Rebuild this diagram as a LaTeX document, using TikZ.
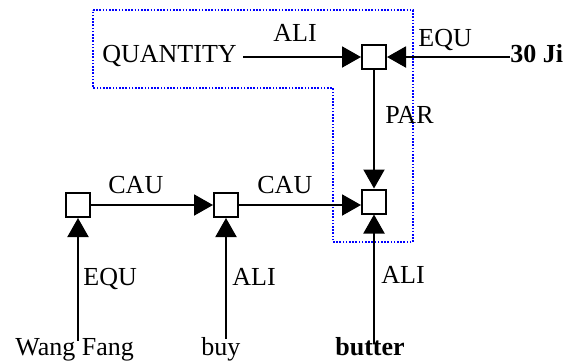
\documentclass[tikz,border=0pt]{standalone}
\usepackage{fontspec}
\setmainfont{Liberation Serif}
\usetikzlibrary{positioning,calc,arrows.meta}

\begin{document}
\begin{tikzpicture}[x=0.5pt,y=-0.5pt,
  font=\fontsize{13}{15}\selectfont,
  box/.style={draw,line width=1pt,minimum size=12pt,inner sep=0pt},
  word/.style={inner sep=0pt,anchor=base west},
  arr/.style={line width=1pt,-{Triangle[length=9.5pt,width=10.5pt]}}]
\useasboundingbox (0,0) rectangle (568,361);
%% dotted frame round the quantity part
\draw[blue,line width=0.8pt,dash pattern=on 0.8pt off 0.8pt]
  (93,10) -- (413,10) -- (413,242) -- (333,242) -- (333,88) -- (93,88) -- cycle;
%% squares
\node[box] (sqtop) at (374,57) {};
\node[box] (sqb) at (374,201.5) {};
\node[box] (sqa) at (78,205) {};
\node[box] (sqm) at (226,205) {};
%% words
\node[word] (qty) at (102,62) {QUANTITY};
\node[word] (ji) at (510,62) {\textbf{30 Ji}};
\node[word] (wang) at (15,355) {Wang Fang};
\node[word] (buy) at (201,355) {buy};
\node[word] (butter) at (335,355) {\textbf{butter}};
%% relation labels
\node[word] (aliq) at (273,41.5) {ALI};
\node[word] (equji) at (418,46) {EQU};
\node[word] (par) at (385,123) {PAR};
\node[word] (caua) at (108,193) {CAU};
\node[word] (caum) at (257,193) {CAU};
\node[word] (equw) at (83,285) {EQU};
\node[word] (alibuy) at (232,285) {ALI};
\node[word] (alibut) at (381,283) {ALI};
%% connectors
\draw[arr,shorten <=3pt] (qty.east |- sqtop) -- (sqtop);
\draw[arr] (ji.west |- sqtop) -- (sqtop);
\draw[arr] (sqtop) -- (sqb);
\draw[arr] (sqa) -- (sqm);
\draw[arr] (sqm) -- (sqm -| sqb.west);
\foreach \w/\s/\e in {wang/sqa/1.5pt, buy/sqm/1pt, butter/sqb/3.5pt}
  \draw[arr,shorten <=-\e] (\w.north -| \s) -- (\s);
\end{tikzpicture}
\end{document}
